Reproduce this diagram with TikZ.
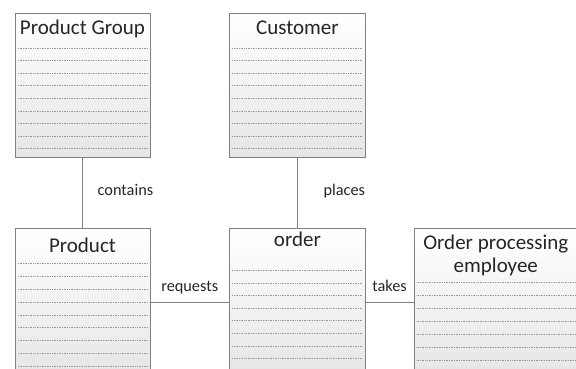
\documentclass[tikz,border=0pt]{standalone}
\usepackage{fontspec}
\setmainfont{Carlito}
\usetikzlibrary{positioning}

\begin{document}
\begin{tikzpicture}[
    x=1pt, y=-1pt,
    node distance=71pt and 79pt,
    classbox/.style={
        rectangle,
        draw=black!50,
        thin,
        top color=white,
        bottom color=black!10,
        inner sep=0pt,
        minimum width=135pt,
        minimum height=144pt
    },
    lowbox/.style={classbox, minimum height=148pt},
    title/.style={
        anchor=base,
        inner sep=0pt,
        align=center,
        font=\fontsize{21}{23.5}\selectfont,
        text=black!85
    },
    attr/.style={draw=black!40, line width=0.5pt, dash pattern=on 1pt off 0.7pt},
    link/.style={draw=black!50, thin},
    role/.style={inner sep=0pt, font=\fontsize{16.3}{19}\selectfont, text=black!85}
]

\useasboundingbox (0,0) rectangle (576,369);

\node[classbox] (group) at (82.5,85) {};
\node[classbox, minimum width=136pt, right=of group] (customer) {};
\node[lowbox, below=of group] (product) {};
\node[lowbox, minimum width=136pt, below=of customer] (order) {};
\node[lowbox, minimum width=164pt, right=48pt of order] (employee) {};

\node[title] (grouptitle) at ([yshift=-22pt]group.north) {Product Group};
\node[title] (customertitle) at ([yshift=-22pt]customer.north) {Customer};
\node[title] (producttitle) at ([yshift=-24pt]product.north) {Product};
\node[title] (ordertitle) at ([yshift=-18pt]order.north) {order};
\node[title] (employeetitle) at ([yshift=-44.5pt]employee.north) {Order processing\\employee};

\foreach \i in {0,...,8} {
    \draw[attr] ([xshift=3pt,yshift={-35pt-\i*12.6pt}]group.north west) -- ([xshift=-3pt,yshift={-35pt-\i*12.6pt}]group.north east);
    \draw[attr] ([xshift=3pt,yshift={-35pt-\i*12.6pt}]customer.north west) -- ([xshift=-3pt,yshift={-35pt-\i*12.6pt}]customer.north east);
    \draw[attr] ([xshift=3pt,yshift={-35pt-\i*12.9pt}]product.north west) -- ([xshift=-3pt,yshift={-35pt-\i*12.9pt}]product.north east);
}
\foreach \i in {0,...,7}
    \draw[attr] ([xshift=3pt,yshift={-42pt-\i*12.6pt}]order.north west) -- ([xshift=-3pt,yshift={-42pt-\i*12.6pt}]order.north east);
\foreach \i in {0,...,6}
    \draw[attr] ([xshift=3pt,yshift={-54pt-\i*13pt}]employee.north west) -- ([xshift=-3pt,yshift={-54pt-\i*13pt}]employee.north east);

\draw[link] (group) -- (product) node[role, midway, anchor=base west, xshift=15pt, yshift=-2.5pt] (contains) {contains};
\draw[link] (customer) -- (order) node[role, midway, anchor=base west, xshift=26pt, yshift=-2.5pt] (places) {places};
\draw[link] (product) -- (order) node[role, midway, anchor=base, yshift=11pt] (requests) {requests};
\draw[link] (order) -- (employee) node[role, midway, anchor=base, yshift=11pt] (takes) {takes};

\end{tikzpicture}
\end{document}
